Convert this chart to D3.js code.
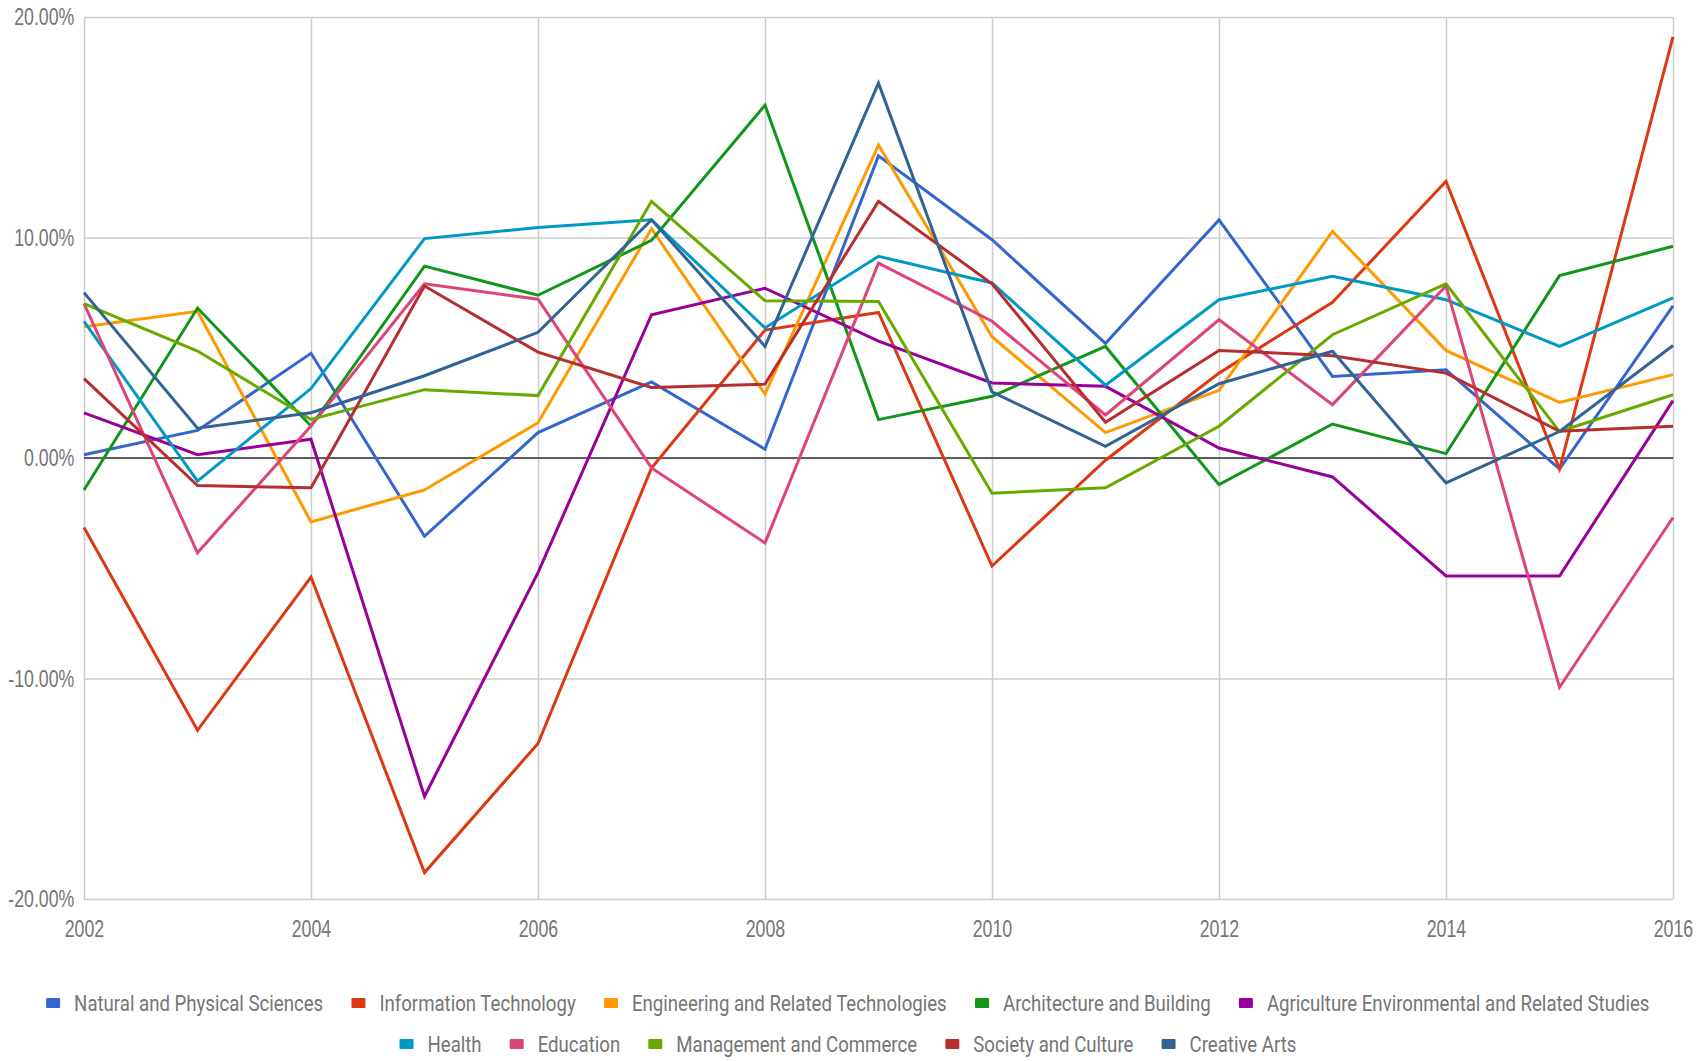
<!DOCTYPE html>
<html>
<head>
<meta charset="utf-8">
<script src="https://cdn.jsdelivr.net/npm/d3@7"></script>
<style>
  body { margin: 0; background: #fff; }
  svg { display: block; font-family: Roboto, "Noto Sans", sans-serif; }
</style>
</head>
<body>
<svg id="chart" width="1696" height="1061"></svg>
<script>
// data (growth per year, %)
var years = [2002, 2003, 2004, 2005, 2006, 2007, 2008, 2009, 2010, 2011, 2012, 2013, 2014, 2015, 2016];

var naturalPhysical = [0.15, 1.25, 4.75, -3.55, 1.15, 3.45, 0.4, 13.7, 9.9, 5.2, 10.8, 3.7, 4.0, -0.5, 6.9];
var informationTech = [-3.15, -12.35, -5.4, -18.8, -12.95, -0.45, 5.8, 6.6, -4.9, -0.1, 3.85, 7.06, 12.55, -0.5, 19.1];
var engineering = [5.95, 6.65, -2.9, -1.45, 1.6, 10.4, 2.9, 14.2, 5.5, 1.15, 3.07, 10.28, 4.88, 2.52, 3.78];
var architecture = [-1.45, 6.8, 1.45, 8.7, 7.38, 9.87, 16.0, 1.74, 2.8, 5.06, -1.21, 1.54, 0.2, 8.27, 9.6];
var agriculture = [2.05, 0.15, 0.85, -15.35, -5.2, 6.5, 7.7, 5.3, 3.4, 3.25, 0.45, -0.86, -5.35, -5.35, 2.6];
var health = [6.2, -1.05, 3.15, 9.95, 10.45, 10.8, 5.9, 9.15, 7.94, 3.3, 7.18, 8.24, 7.18, 5.06, 7.26];
var education = [7.0, -4.3, 1.45, 7.9, 7.2, -0.45, -3.85, 8.84, 6.2, 1.95, 6.27, 2.42, 7.8, -10.4, -2.7];
var management = [7.0, 4.85, 1.75, 3.1, 2.83, 11.64, 7.13, 7.1, -1.6, -1.35, 1.44, 5.59, 7.9, 1.2, 2.87];
var society = [3.6, -1.25, -1.35, 7.8, 4.8, 3.2, 3.35, 11.64, 7.9, 1.62, 4.88, 4.64, 3.85, 1.21, 1.44];
var creativeArts = [7.5, 1.35, 2.05, 3.73, 5.7, 10.8, 5.06, 17.0, 3.0, 0.53, 3.37, 4.84, -1.13, 1.2, 5.1];

var seriesNames = [
    "Natural and Physical Sciences", "Information Technology", "Engineering and Related Technologies",
    "Architecture and Building", "Agriculture Environmental and Related Studies",
    "Health", "Education", "Management and Commerce", "Society and Culture", "Creative Arts"
];
var seriesValues = [naturalPhysical, informationTech, engineering, architecture, agriculture,
    health, education, management, society, creativeArts];
var colors = ["#3366cc", "#dc3912", "#ff9900", "#109618", "#990099",
    "#0099c6", "#dd4477", "#66aa00", "#b82e2e", "#316395"];

var xTicks = [2002, 2004, 2006, 2008, 2010, 2012, 2014, 2016];
var yTicks = [-20, -10, 0, 10, 20];

function drawChart() {

    // plot area
    var plot = { left: 84, right: 1673, top: 17, bottom: 899 };
    var squeeze = 0.74; // text in the reference is narrow

    var svg = d3.select("#chart");

    var x = d3.scaleLinear().domain([2002, 2016]).range([plot.left, plot.right]);
    var y = d3.scaleLinear().domain([-20, 20]).range([plot.bottom, plot.top]);

    // x axis + vertical grid
    var xAxis = svg.append("g")
        .attr("transform", "translate(0," + plot.bottom + ")")
        .call(d3.axisBottom(x)
            .tickValues(xTicks)
            .tickSize(-(plot.bottom - plot.top))
            .tickPadding(21)
            .tickFormat(d3.format("d")));

    // y axis + horizontal grid
    var yAxis = svg.append("g")
        .attr("transform", "translate(" + plot.left + ",0)")
        .call(d3.axisLeft(y)
            .tickValues(yTicks)
            .tickSize(-(plot.right - plot.left))
            .tickPadding(13)
            .tickFormat(function (d) { return d.toFixed(2) + "%"; }));

    [xAxis, yAxis].forEach(function (ax) {
        ax.select(".domain").remove();
        ax.selectAll("line").attr("stroke", "#cccccc").attr("stroke-width", 1.5);
        ax.selectAll("text")
            .attr("fill", "#757575")
            .style("font-size", "24px")
            .attr("transform", "scale(" + squeeze + ",1)");
    });

    // zero baseline
    svg.append("line")
        .attr("x1", plot.left).attr("x2", plot.right)
        .attr("y1", y(0)).attr("y2", y(0))
        .attr("stroke", "#333333")
        .attr("stroke-width", 1.5);

    // series lines
    var line = d3.line()
        .x(function (d, i) { return x(years[i]); })
        .y(function (d) { return y(d); });

    svg.append("g")
        .selectAll("path")
        .data(seriesValues)
        .enter().append("path")
        .attr("d", line)
        .attr("fill", "none")
        .attr("stroke", function (d, i) { return colors[i]; })
        .attr("stroke-width", 3)
        .attr("stroke-linejoin", "miter");

    // legend, two centred rows
    var legendRows = [[0, 1, 2, 3, 4], [5, 6, 7, 8, 9]];
    var rowY = [1003, 1044];
    var legendSqueeze = 0.81;
    var swatchW = 14, swatchH = 10, swatchGap = 14, itemGap = 28;

    legendRows.forEach(function (row, r) {
        var g = svg.append("g");
        var items = row.map(function (idx) {
            var item = g.append("g");
            item.append("rect")
                .attr("width", swatchW).attr("height", swatchH)
                .attr("y", -swatchH / 2)
                .attr("rx", 1)
                .attr("fill", colors[idx]);
            var t = item.append("text")
                .attr("fill", "#757575")
                .attr("dy", "0.35em")
                .style("font-size", "23px")
                .text(seriesNames[idx]);
            var w = t.node().getComputedTextLength() * legendSqueeze;
            t.attr("transform", "translate(" + (swatchW + swatchGap) + ",0) scale(" + legendSqueeze + ",1)");
            return { node: item, width: swatchW + swatchGap + w };
        });
        var total = d3.sum(items, function (d) { return d.width; }) + itemGap * (items.length - 1);
        var cx = 848 - total / 2;
        items.forEach(function (it) {
            it.node.attr("transform", "translate(" + cx + "," + rowY[r] + ")");
            cx += it.width + itemGap;
        });
    });
}

drawChart();
</script>
</body>
</html>
